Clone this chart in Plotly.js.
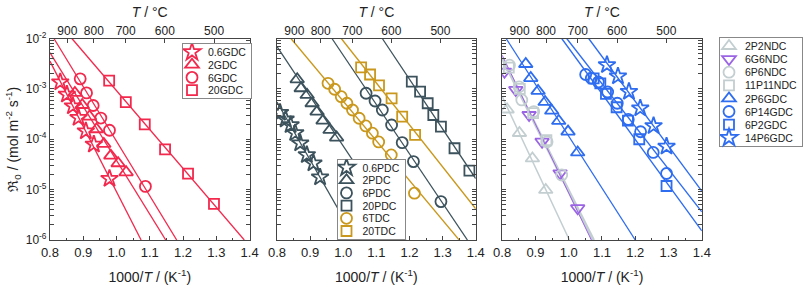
<!DOCTYPE html>
<html><head><meta charset="utf-8">
<script src="https://cdn.plot.ly/plotly-3.0.1.min.js"></script>
<style>html,body{margin:0;padding:0;background:#fff}#chart{width:803px;height:287px}</style>
</head><body><div id="chart"></div>
<script>
// ---------- Panel 1 (GDC) ----------
const x_06GDC = [0.831,0.851,0.869,0.886,0.908,0.932,0.979];
const y_06GDC = [1.36e-3,7.74e-4,4.55e-4,2.67e-4,1.45e-4,7.91e-5,1.65e-5];
const x_2GDC = [0.875,0.897,0.919,0.940,0.962,0.983,1.005,1.029];
const y_2GDC = [8.32e-4,4.79e-4,2.82e-4,1.58e-4,8.07e-5,4.73e-5,3.34e-5,2.21e-5];
const x_6GDC = [0.891,0.910,0.930,0.953,0.979,1.087];
const y_6GDC = [1.58e-3,8.32e-4,4.68e-4,2.63e-4,1.51e-4,1.16e-5];
const x_20GDC = [0.978,1.028,1.085,1.146,1.215,1.293];
const y_20GDC = [1.46e-3,5.46e-4,1.97e-4,6.28e-5,2.07e-5,5.19e-6];
// fitted lines (end points)
const fx_06GDC = [0.8,1.074], fy_06GDC = [3.55e-3,1e-6];
const fx_2GDC = [0.8,1.148], fy_2GDC = [5.25e-3,1e-6];
const fx_6GDC = [0.812,1.181], fy_6GDC = [1e-2,1e-6];
const fx_20GDC = [0.866,1.384], fy_20GDC = [1e-2,1e-6];

// ---------- Panel 2 (PDC / TDC) ----------
const x_06PDC = [0.809,0.826,0.841,0.855,0.870,0.890,0.910,0.930];
const y_06PDC = [3.37e-4,2.49e-4,1.92e-4,1.33e-4,8.34e-5,4.88e-5,3.34e-5,1.76e-5];
const x_2PDC = [0.861,0.873,0.891,0.906,0.921,0.939,0.960,0.980];
const y_2PDC = [1.55e-3,1.03e-3,7.57e-4,5.18e-4,3.53e-4,2.34e-4,1.53e-4,1.08e-4];
const x_6PDC = [1.069,1.096,1.118,1.146,1.178,1.212,1.295];
const y_6PDC = [8.18e-4,5.75e-4,3.81e-4,1.92e-4,8.57e-5,3.60e-5,5.78e-6];
const x_20PDC = [1.207,1.232,1.255,1.272,1.295,1.336,1.381];
const y_20PDC = [1.39e-3,8.79e-4,5.18e-4,3.03e-4,1.78e-4,6.62e-5,2.38e-5];
const x_6TDC = [0.954,0.974,0.994,1.011,1.028,1.048,1.068,1.088,1.107,1.145,1.215];
const y_6TDC = [1.29e-3,9.82e-4,7.00e-4,5.18e-4,3.81e-4,2.61e-4,1.84e-4,1.32e-4,8.83e-5,4.88e-5,8.49e-6];
const x_20TDC = [1.054,1.081,1.108,1.146,1.178,1.217];
const y_20TDC = [2.68e-3,1.93e-3,1.17e-3,6.50e-4,2.81e-4,1.22e-4];
const fx_06PDC = [0.8,1.038], fy_06PDC = [5.50e-4,1e-6];
const fx_2PDC = [0.8,1.189], fy_2PDC = [6.92e-3,1e-6];
const fx_6PDC = [0.966,1.375], fy_6PDC = [1e-2,1e-6];
const fx_20PDC = [1.118,1.4], fy_20PDC = [1e-2,1.66e-5];
const fx_6TDC = [0.842,1.350], fy_6TDC = [1e-2,1e-6];
const fx_20TDC = [0.994,1.4], fy_20TDC = [1e-2,4.17e-6];

// ---------- Panel 3 (NDC / co-doped) ----------
const x_2P2NDC = [0.815,0.852,0.891,0.931];
const y_2P2NDC = [3.90e-4,1.33e-4,4.16e-5,9.86e-6];
const x_6G6NDC = [0.807,0.841,0.881,0.920,0.974,1.027];
const y_6G6NDC = [2.19e-3,9.51e-4,3.03e-4,8.95e-5,2.11e-5,4.28e-6];
const x_6P6NDC = [0.822,0.851,0.859,0.895,0.935,0.979];
const y_6P6NDC = [2.95e-3,1.10e-3,6.03e-4,3.55e-4,8.91e-5,1.95e-5];
const x_11P11NDC = [0.820,0.853,0.893,0.933];
const y_11P11NDC = [2.63e-3,1.00e-3,3.31e-4,9.55e-5];
const x_2P6GDC = [0.871,0.886,0.908,0.929,0.949,0.970,0.998,1.027];
const y_2P6GDC = [3.12e-3,1.64e-3,9.12e-4,5.50e-4,3.69e-4,2.31e-4,1.42e-4,5.47e-5];
const x_6P14GDC = [1.051,1.068,1.089,1.117,1.146,1.179,1.216,1.254,1.294];
const y_6P14GDC = [1.93e-3,1.62e-3,1.37e-3,8.67e-4,5.18e-4,2.47e-4,1.41e-4,5.47e-5,2.09e-5];
const x_6P2GDC = [1.075,1.095,1.112,1.144,1.178,1.212,1.294];
const y_6P2GDC = [1.62e-3,1.29e-3,7.93e-4,4.32e-4,2.34e-4,1.0e-4,1.18e-5];
const x_14P6GDC = [1.115,1.148,1.181,1.215,1.255,1.294];
const y_14P6GDC = [2.98e-3,1.78e-3,8.79e-4,4.12e-4,1.84e-4,7.19e-5];
const fx_2P2NDC = [0.8,1.002], fy_2P2NDC = [7.08e-4,1e-6];
const fx_6G6NDC = [0.8,1.068], fy_6G6NDC = [4.68e-3,1e-6];
const fx_6P6NDC = [0.8,1.076], fy_6P6NDC = [4.2e-3,1e-6];
const fx_11P11NDC = [0.8,1.072], fy_11P11NDC = [3.9e-3,1e-6];
const fx_2P6GDC = [0.812,1.200], fy_2P6GDC = [1e-2,1e-6];
const fx_6P14GDC = [0.994,1.4], fy_6P14GDC = [1e-2,3.63e-6];
const fx_6P2GDC = [0.979,1.4], fy_6P2GDC = [1e-2,1.51e-6];
const fx_14P6GDC = [1.060,1.4], fy_14P6GDC = [1e-2,9.33e-6];

// top axis temperatures (°C)
const T_C = [900,800,700,600,500];

const RED = '#f2294d', DARK = '#3c525c', GOLD = '#c9981c', BLUE = '#2e6cf0', LIGHT = '#c3ced1', PURP = '#9a64e4';
const traces = [];
function fit(x, y, c, ax, w) {
  traces.push({x, y, xaxis: 'x'+ax, yaxis: 'y'+ax, mode: 'lines', line: {color: c, width: w||1.3},
    showlegend: false, hoverinfo: 'skip'});
}
function pts(name, x, y, c, sym, size, ax, leg) {
  traces.push({x, y, name, xaxis: 'x'+ax, yaxis: 'y'+ax, mode: 'markers', legend: leg,
    marker: {symbol: sym, size: size, color: c, line: {color: c, width: 1.8}}});
}
const A1 = '', A2 = '2', A3 = '3';
fit(fx_06GDC, fy_06GDC, RED, A1); fit(fx_2GDC, fy_2GDC, RED, A1); fit(fx_6GDC, fy_6GDC, RED, A1); fit(fx_20GDC, fy_20GDC, RED, A1);
pts('0.6GDC', x_06GDC, y_06GDC, RED, 'star-open', 13, A1, 'legend');
pts('2GDC', x_2GDC, y_2GDC, RED, 'triangle-up-open', 12, A1, 'legend');
pts('6GDC', x_6GDC, y_6GDC, RED, 'circle-open', 11, A1, 'legend');
pts('20GDC', x_20GDC, y_20GDC, RED, 'square-open', 10, A1, 'legend');

fit(fx_06PDC, fy_06PDC, DARK, A2); fit(fx_2PDC, fy_2PDC, DARK, A2); fit(fx_6PDC, fy_6PDC, DARK, A2); fit(fx_20PDC, fy_20PDC, DARK, A2);
fit(fx_6TDC, fy_6TDC, GOLD, A2); fit(fx_20TDC, fy_20TDC, GOLD, A2);
pts('0.6PDC', x_06PDC, y_06PDC, DARK, 'star-open', 13, A2, 'legend2');
pts('2PDC', x_2PDC, y_2PDC, DARK, 'triangle-up-open', 12, A2, 'legend2');
pts('6PDC', x_6PDC, y_6PDC, DARK, 'circle-open', 11, A2, 'legend2');
pts('20PDC', x_20PDC, y_20PDC, DARK, 'square-open', 10, A2, 'legend2');
pts('6TDC', x_6TDC, y_6TDC, GOLD, 'circle-open', 11, A2, 'legend2');
pts('20TDC', x_20TDC, y_20TDC, GOLD, 'square-open', 10, A2, 'legend2');

fit(fx_2P2NDC, fy_2P2NDC, LIGHT, A3, 1.5); fit(fx_6P6NDC, fy_6P6NDC, LIGHT, A3, 2); fit(fx_11P11NDC, fy_11P11NDC, LIGHT, A3, 2);
fit(fx_6G6NDC, fy_6G6NDC, PURP, A3, 1);
fit(fx_2P6GDC, fy_2P6GDC, BLUE, A3); fit(fx_6P14GDC, fy_6P14GDC, BLUE, A3); fit(fx_6P2GDC, fy_6P2GDC, BLUE, A3); fit(fx_14P6GDC, fy_14P6GDC, BLUE, A3);
pts('2P2NDC', x_2P2NDC, y_2P2NDC, LIGHT, 'triangle-up-open', 12, A3, 'legend3');
pts('6G6NDC', x_6G6NDC, y_6G6NDC, PURP, 'triangle-down-open', 12, A3, 'legend3');
pts('6P6NDC', x_6P6NDC, y_6P6NDC, LIGHT, 'circle-open', 11, A3, 'legend3');
pts('11P11NDC', x_11P11NDC, y_11P11NDC, LIGHT, 'square-open', 10, A3, 'legend3');
pts('2P6GDC', x_2P6GDC, y_2P6GDC, BLUE, 'triangle-up-open', 12, A3, 'legend3');
pts('6P14GDC', x_6P14GDC, y_6P14GDC, BLUE, 'circle-open', 11, A3, 'legend3');
pts('6P2GDC', x_6P2GDC, y_6P2GDC, BLUE, 'square-open', 10, A3, 'legend3');
pts('14P6GDC', x_14P6GDC, y_14P6GDC, BLUE, 'star-open', 13, A3, 'legend3');

// invisible traces so the top temperature axes exist
['4','5','6'].forEach((a, i) => traces.push({x: [], y: [], xaxis: 'x'+a, yaxis: 'y'+['', '2', '3'][i],
  showlegend: false, hoverinfo: 'skip', mode: 'markers'}));

const FONT = 'Liberation Sans, Arial, sans-serif';
const AX = '#444';
const W = 803, H = 287;
const yDom = [1 - 240/H, 1 - 38.5/H];
const xDoms = [[51/W, 255/W], [283/W, 486/W], [513/W, 717/W]];
const decades = [1e-6,1e-5,1e-4,1e-3,1e-2];
const decLabels = ['10<sup>-6</sup>','10<sup>-5</sup>','10<sup>-4</sup>','10<sup>-3</sup>','10<sup>-2</sup>'];
const minorVals = [];
for (let e = -6; e < -2; e++) for (let m = 2; m <= 9; m++) minorVals.push(m * Math.pow(10, e));
const topVals = T_C.map(t => 1000/(t + 273.15));

const layout = {width: W, height: H, margin: {l:0, r:0, t:0, b:0}, paper_bgcolor: '#fff', plot_bgcolor: '#fff',
  font: {family: FONT, size: 12, color: '#222'}, showlegend: true};
const xNames = ['xaxis','xaxis2','xaxis3'], yNames = ['yaxis','yaxis2','yaxis3'], tNames = ['xaxis4','xaxis5','xaxis6'];
for (let i = 0; i < 3; i++) {
  const yid = ['y','y2','y3'][i], xid = ['x','x2','x3'][i];
  layout[xNames[i]] = {domain: xDoms[i], anchor: yid, range: [0.8, 1.4], dtick: 0.1, tickformat: '.1f',
    ticks: 'inside', ticklen: 4, tickcolor: AX, showline: true, linecolor: AX, linewidth: 1, mirror: true,
    showgrid: false, zeroline: false, tickfont: {size: 13},
    minor: {dtick: 0.05, ticks: 'inside', ticklen: 2, tickcolor: AX, showgrid: false},
    title: {text: '1000/<i>T</i> / (K<sup>-1</sup>)', font: {size: 14}, standoff: 13}};
  layout[yNames[i]] = {domain: yDom, anchor: xid, type: 'log', range: [-6, -2],
    tickvals: decades, ticktext: decLabels, showticklabels: i === 0, tickfont: {size: 12},
    ticks: 'inside', ticklen: 4, tickcolor: AX, showline: true, linecolor: AX, linewidth: 1, mirror: 'allticks',
    showgrid: false, zeroline: false,
    minor: {tickvals: minorVals, ticks: 'inside', ticklen: 2, tickcolor: AX, showgrid: false}};
  layout[tNames[i]] = {overlaying: xid, anchor: yid, side: 'top', range: [0.8, 1.4],
    tickvals: topVals, ticktext: T_C.map(String), ticks: 'inside', ticklen: 4, tickcolor: AX,
    showline: false, showgrid: false, zeroline: false, tickfont: {size: 12},
    title: {text: '<i>T</i> / °C', font: {size: 14}, standoff: 3}};
}
layout.yaxis.title = {text: 'ℜ<sub>0</sub> / (mol m<sup>-2</sup> s<sup>-1</sup>)', font: {size: 14}, standoff: 3};
const legBase = {bgcolor: '#fff', bordercolor: '#888', borderwidth: 1, font: {size: 10.5, color: '#222'},
  xanchor: 'left', yanchor: 'top', itemsizing: 'trace', tracegroupgap: 0};
layout.legend = Object.assign({}, legBase, {x: 182/W, y: 1 - 43/H});
layout.legend2 = Object.assign({}, legBase, {x: 336.5/W, y: 1 - 158.5/H});
layout.legend3 = Object.assign({}, legBase, {x: 719/W, y: 1 - 37/H});

// tighten legend rows to the reference's compact spacing and pin the boxes
function compactLegends(gd) {
  const spec = {legend: [182, 43, 12.7], legend2: [336.5, 158.5, 12.7], legend3: [719, 37, 13.1]};
  Object.keys(spec).forEach(id => {
    const g = gd.querySelector('g.' + id);
    if (!g) return;
    const [lx, ly, step] = spec[id], top = 9;
    g.setAttribute('transform', 'translate(' + lx + ',' + ly + ')');
    const bg = g.querySelector('rect.bg');
    if (bg) { bg.setAttribute('x', 0.5); bg.setAttribute('y', 0.5); }
    const left = bg ? bg.getBoundingClientRect().left - 0.5 : lx;
    const items = g.querySelectorAll('g.traces');
    let maxW = 0;
    items.forEach((it, i) => {
      it.setAttribute('transform', 'translate(1,' + (top + i * step) + ')');
      const lp = it.querySelector('g.legendpoints');
      if (lp) {
        const r = lp.getBoundingClientRect();
        const dx = (left + 10) - (r.left + r.width / 2);
        lp.setAttribute('transform', ((lp.getAttribute('transform') || '') + ' translate(' + dx + ',0)').trim());
      }
      const tx = it.querySelector('text');
      if (tx) {
        const r = tx.getBoundingClientRect();
        const dx = (left + 26) - r.left;
        tx.setAttribute('transform', ((tx.getAttribute('transform') || '') + ' translate(' + dx + ',0)').trim());
        maxW = Math.max(maxW, r.width);
      }
    });
    if (bg) {
      bg.setAttribute('height', top + (items.length - 1) * step + 8);
      bg.setAttribute('width', Math.min(26 + maxW + 5, W - lx - 1));
    }
  });
}
Plotly.newPlot('chart', traces, layout, {staticPlot: true, displayModeBar: false}).then(compactLegends);
</script></body></html>
